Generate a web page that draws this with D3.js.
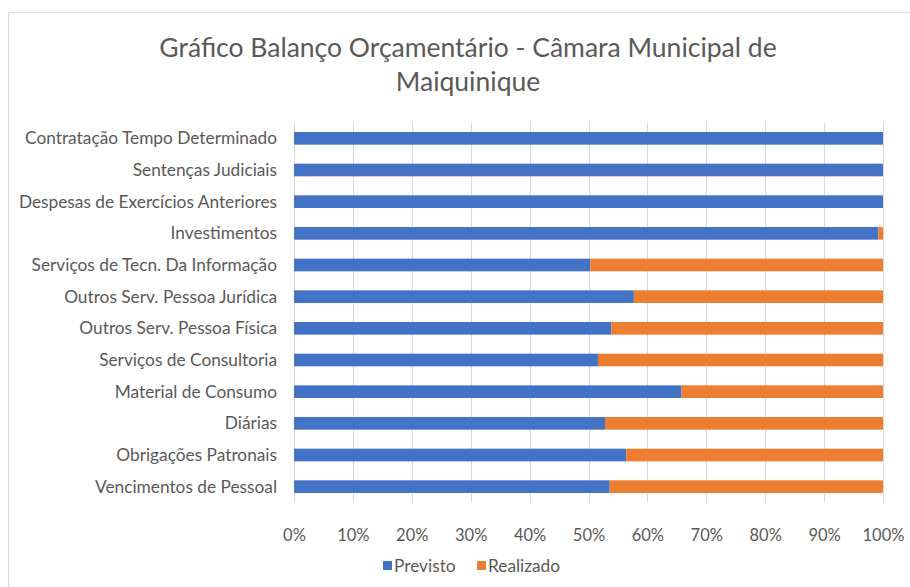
<!DOCTYPE html>
<html>
<head>
<meta charset="utf-8">
<script src="https://cdn.jsdelivr.net/npm/d3@7"></script>
<style>
  body { margin: 0; background: #fff; }
  text { font-family: Lato, "Open Sans", sans-serif; fill: #595959; }
</style>
</head>
<body>
<div id="chart"></div>
<script>
// categories, top to bottom as shown
var categories = [
  "Contratação Tempo Determinado",
  "Sentenças Judiciais",
  "Despesas de Exercícios Anteriores",
  "Investimentos",
  "Serviços de Tecn. Da Informação",
  "Outros Serv. Pessoa Jurídica",
  "Outros Serv. Pessoa Física",
  "Serviços de Consultoria",
  "Material de Consumo",
  "Diárias",
  "Obrigações Patronais",
  "Vencimentos de Pessoal"
];
// share of each series (percent)
var previsto = [100, 100, 100, 99.2, 50.3, 57.7, 53.9, 51.6, 65.8, 52.8, 56.4, 53.6];
var realizado = [0, 0, 0, 0.8, 49.7, 42.3, 46.1, 48.4, 34.2, 47.2, 43.6, 46.4];
var seriesNames = ["Previsto", "Realizado"];
var colors = ["#4472c4", "#ed7d31"];
var tickValues = [0, 0.1, 0.2, 0.3, 0.4, 0.5, 0.6, 0.7, 0.8, 0.9, 1];

var width = 910, height = 587;
var svg = d3.select("#chart").append("svg")
  .attr("width", width).attr("height", height);

// chart border
svg.append("rect")
  .attr("x", 8.5).attr("y", 12.5)
  .attr("width", 920).attr("height", 600)
  .attr("fill", "none").attr("stroke", "#d9d9d9");

// title
svg.append("text").attr("x", 468).attr("y", 57)
  .attr("text-anchor", "middle").style("font-size", "26.5px")
  .text("Gráfico Balanço Orçamentário - Câmara Municipal de");
svg.append("text").attr("x", 468).attr("y", 91)
  .attr("text-anchor", "middle").style("font-size", "26.5px")
  .text("Maiquinique");

var plotL = 294, plotR = 883, plotT = 122.5, plotB = 502.5;

var x = d3.scaleLinear().domain([0, 1]).range([plotL, plotR]);
var y = d3.scaleBand().domain(categories).range([plotT, plotB]).paddingInner(0.6).paddingOuter(0.3);

// gridlines
svg.append("g").selectAll("line").data(tickValues).enter().append("line")
  .attr("x1", d => Math.round(x(d)) + 0.5).attr("x2", d => Math.round(x(d)) + 0.5)
  .attr("y1", plotT).attr("y2", plotB)
  .attr("stroke", "#d9d9d9").attr("stroke-width", 1);

// stacked data
var rows = categories.map((c, i) => {
  var tot = previsto[i] + realizado[i];
  return { cat: c, Previsto: previsto[i] / tot, Realizado: realizado[i] / tot };
});
var stack = d3.stack().keys(seriesNames)(rows);

svg.append("g").selectAll("g").data(stack).enter().append("g")
  .attr("fill", (d, i) => colors[i])
  .selectAll("rect").data(d => d).enter().append("rect")
  .attr("x", d => x(d[0]))
  .attr("y", d => y(d.data.cat))
  .attr("width", d => x(d[1]) - x(d[0]))
  .attr("height", y.bandwidth());

// category labels
svg.append("g").selectAll("text").data(categories).enter().append("text")
  .attr("x", 277)
  .attr("y", d => y(d) + y.bandwidth() / 2)
  .attr("dy", "0.35em")
  .attr("text-anchor", "end")
  .style("font-size", "17.3px")
  .text(d => d);

// x axis
var xAxis = d3.axisBottom(x).tickValues(tickValues).tickFormat(d3.format(".0%")).tickSize(0).tickPadding(0);
var ax = svg.append("g").attr("transform", "translate(0," + (plotB + 27) + ")").call(xAxis);
ax.select(".domain").remove();
ax.selectAll("text").style("font-size", "16.5px").style("fill", "#595959")
  .style("font-family", "Lato, 'Open Sans', sans-serif");

// legend
var legendX = [383, 477];
var lg = svg.append("g").selectAll("g").data(seriesNames).enter().append("g")
  .attr("transform", (d, i) => "translate(" + legendX[i] + ",566)");
lg.append("rect").attr("x", 0).attr("y", -5).attr("width", 9).attr("height", 9)
  .attr("fill", (d, i) => colors[i]);
lg.append("text").attr("x", 11).attr("y", 0).attr("dy", "0.35em")
  .style("font-size", "17.3px").text(d => d);
</script>
</body>
</html>
